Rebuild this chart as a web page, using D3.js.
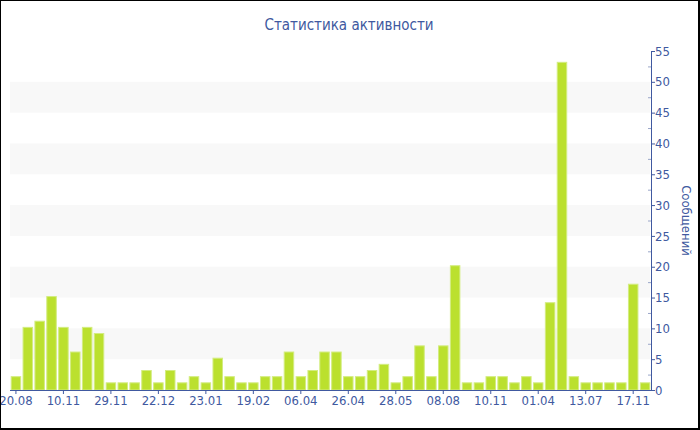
<!DOCTYPE html>
<html>
<head>
<meta charset="utf-8">
<script src="https://cdn.jsdelivr.net/npm/d3@7"></script>
<style>
	body { margin: 0; background: #fff; }
	svg text { font-family: "DejaVu Sans Condensed", "DejaVu Sans", sans-serif; font-stretch: condensed; }
</style>
</head>
<body>
<svg id="chart" width="700" height="430"></svg>
<script>

// messages per period, one bar each
const VALUES = [2, 10, 11, 15, 10, 6, 10, 9, 1, 1,
	1, 3, 1, 3, 1, 2, 1, 5, 2, 1,
	1, 2, 2, 6, 2, 3, 6, 6, 2, 2,
	3, 4, 1, 2, 7, 2, 7, 20, 1, 1,
	2, 2, 1, 2, 1, 14, 53, 2, 1, 1,
	1, 1, 17, 1];
// only every 4th bar gets a date label
const TICK_LABELS = ['20.08', '10.11', '29.11', '22.12', '23.01', '19.02', '06.04',
	'26.04', '28.05', '08.08', '10.11', '01.04', '13.07', '17.11'];
const LABEL_STEP = 4;
const Y_MAX = 55;
const TITLE = 'Статистика активности';
const Y_TITLE = 'Сообщений';

const BLUE = '#4059a0';

const svg = d3.select('#chart');

const plot = { left: 10, right: 651, top: 51, bottom: 390 };

const x = d3.scaleBand()
	.domain(d3.range(VALUES.length))
	.range([plot.left, plot.right])
	.paddingInner(0.2)
	.paddingOuter(0.1);

const y = d3.scaleLinear()
	.domain([0, Y_MAX])
	.range([plot.bottom, plot.top]);

// alternating bands
const bands = d3.range(5, 50, 10);
svg.append('g')
	.selectAll('rect')
	.data(bands)
	.enter()
	.append('rect')
		.attr('x', plot.left)
		.attr('width', plot.right - plot.left - 1)
		.attr('y', d => y(d + 5))
		.attr('height', d => y(d) - y(d + 5))
		.attr('fill', '#f8f8f8');

// bars
svg.append('g')
	.selectAll('rect')
	.data(VALUES)
	.enter()
	.append('rect')
		.attr('x', (d, i) => x(i))
		.attr('width', x.bandwidth())
		.attr('y', d => y(d) - 1)
		.attr('height', d => y(0) - y(d) + 1)
		.attr('fill', '#bbe02e')
		.attr('stroke', '#d3ec80')
		.attr('stroke-width', 1);

// x axis
const tickIdx = TICK_LABELS.map((d, i) => i * LABEL_STEP);
const xAxis = d3.axisBottom(x)
	.tickValues(tickIdx)
	.tickFormat((d, i) => TICK_LABELS[i])
	.tickSize(4)
	.tickSizeOuter(0);

const gx = svg.append('g')
	.attr('transform', `translate(0,${plot.bottom})`)
	.call(xAxis);
gx.select('.domain').attr('stroke', BLUE).attr('d', `M${plot.left},0.5H${plot.right}`);
gx.selectAll('.tick line').attr('stroke', BLUE);
gx.selectAll('.tick text')
	.attr('fill', BLUE)
	.attr('font-size', 13)
	.attr('dy', '0.62em');

// y axis, major ticks outside
const yAxis = d3.axisRight(y)
	.tickValues(d3.range(0, Y_MAX + 1, 5))
	.tickSize(4)
	.tickSizeOuter(0);

const gy = svg.append('g')
	.attr('transform', `translate(${plot.right},0)`)
	.call(yAxis);
gy.select('.domain').attr('stroke', BLUE);
gy.selectAll('.tick line').attr('stroke', BLUE);
gy.selectAll('.tick text')
	.attr('fill', BLUE)
	.attr('font-size', 13)
	.attr('x', 4);

// minor ticks inside
const minor = d3.axisLeft(y)
	.tickValues(d3.range(2.5, Y_MAX, 5))
	.tickSize(3)
	.tickFormat('');
const gm = svg.append('g')
	.attr('transform', `translate(${plot.right},0)`)
	.call(minor);
gm.select('.domain').remove();
gm.selectAll('.tick line').attr('stroke', '#9aa6c8');

// titles
svg.append('text')
	.attr('x', 349)
	.attr('y', 30)
	.attr('text-anchor', 'middle')
	.attr('font-size', 15)
	.attr('fill', BLUE)
	.text(TITLE);

svg.append('text')
	.attr('transform', `translate(682,${(plot.top + plot.bottom) / 2}) rotate(90)`)
	.attr('text-anchor', 'middle')
	.attr('font-size', 13)
	.attr('fill', BLUE)
	.text(Y_TITLE);

// frame
svg.append('rect')
	.attr('x', 0)
	.attr('y', 0)
	.attr('width', 699)
	.attr('height', 429)
	.attr('fill', 'none')
	.attr('stroke', '#000')
	.attr('stroke-width', 2);

</script>
</body>
</html>
